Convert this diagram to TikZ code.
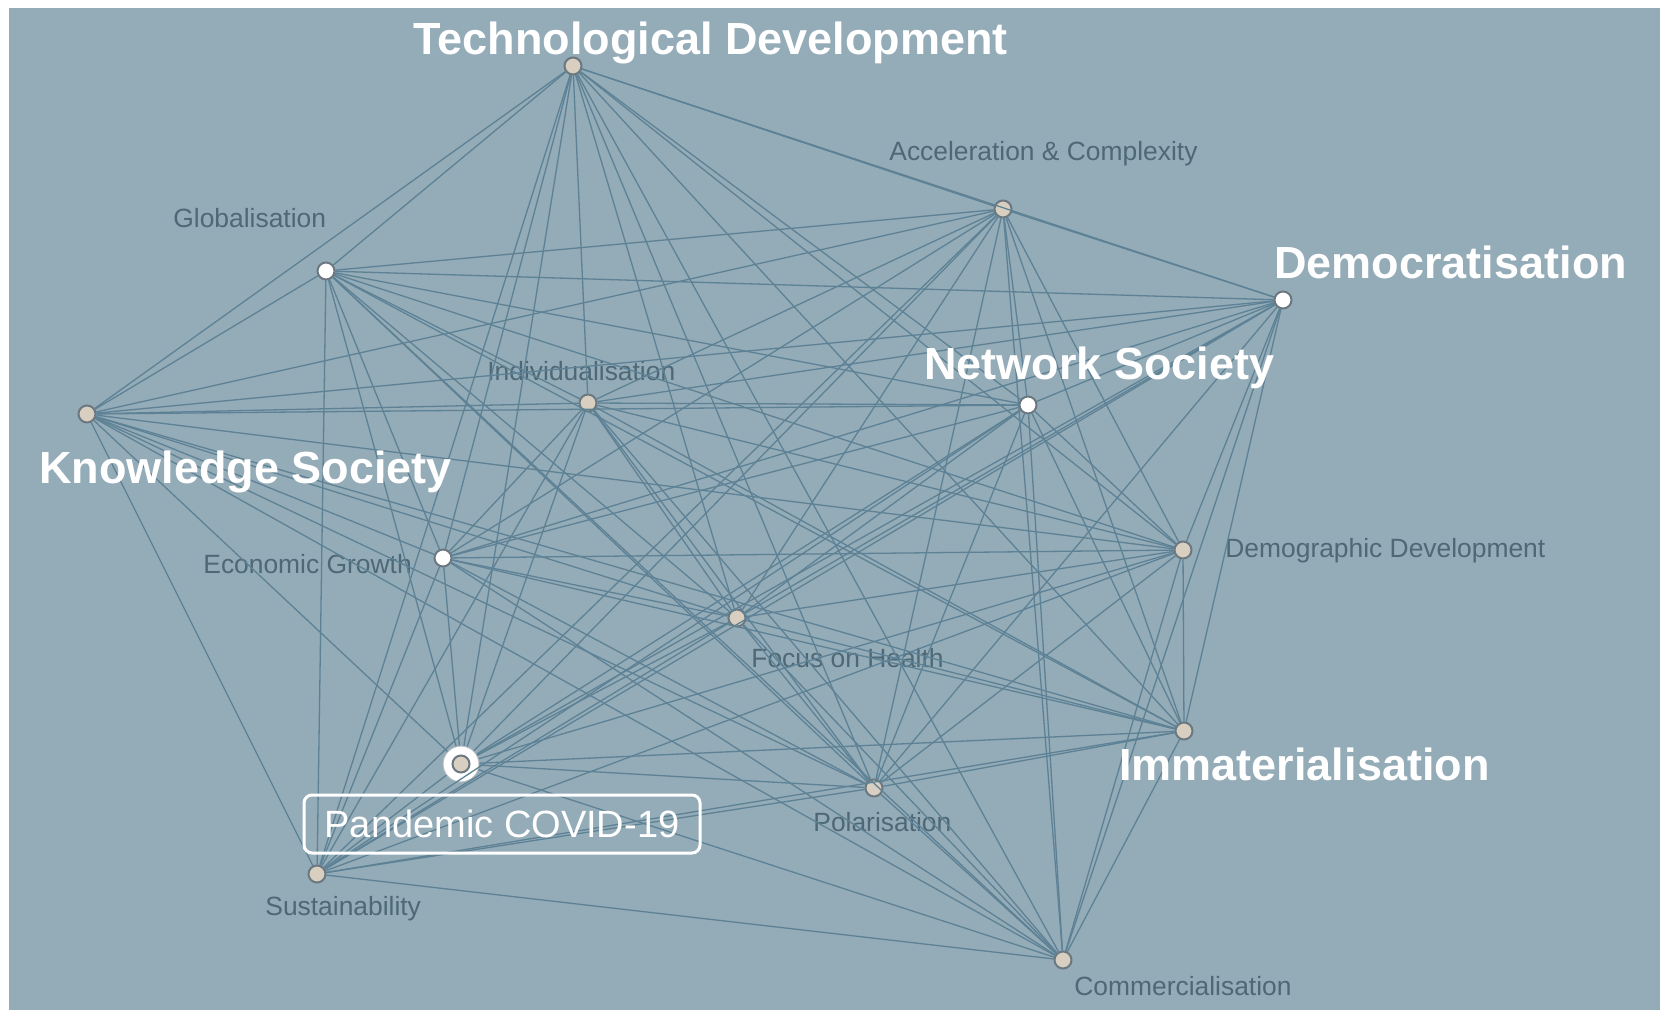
\documentclass[tikz,border=0pt]{standalone}
\usepackage{fontspec}
\setmainfont{Liberation Sans}
\usepackage{tikz}

\definecolor{mapbg}{RGB}{148,171,184}
\definecolor{linkc}{RGB}{94,130,149}
\definecolor{labelc}{RGB}{78,104,118}
\definecolor{dotc}{RGB}{216,207,192}
\definecolor{rimc}{RGB}{108,120,128}

\tikzset{
  dot/.style={circle,draw=rimc,line width=1pt,fill=dotc,minimum size=8.5pt,inner sep=0pt},
  hub/.style={dot,fill=white},
  link/.style={draw=linkc,line width=0.65pt},
  minor/.style={anchor=base west,inner sep=0pt,text=labelc,font=\fontsize{13.2}{15}\selectfont},
  major/.style={anchor=base west,inner sep=0pt,text=white,font=\bfseries\fontsize{22.5}{26}\selectfont},
}

\begin{document}
\begin{tikzpicture}[x=0.5pt,y=-0.5pt]
\useasboundingbox (0,0) rectangle (1660,1010);
\fill[mapbg] (9,8) rectangle (1660,1010);

% small labels sit under the links
\node[minor] (l_accel) at (889,161) {Acceleration \& Complexity};
\node[minor] (l_global) at (173,228) {Globalisation};
\node[minor] (l_indiv) at (487,381) {Individualisation};
\node[minor] (l_econ) at (203,574) {Economic Growth};
\node[minor] (l_demog) at (1225,557) {Demographic Development};
\node[minor] (l_health) at (751,667) {Focus on Health};
\node[minor] (l_polar) at (813,831) {Polarisation};
\node[minor] (l_sustain) at (265,915) {Sustainability};
\node[minor] (l_commerc) at (1074,995) {Commercialisation};

% trend dots
\node[dot] (tech) at (573,66) {};
\node[dot] (accel) at (1003,209) {};
\node[hub] (democ) at (1283,300) {};
\node[hub] (global) at (326,271) {};
\node[dot] (indiv) at (588,403) {};
\node[hub] (netw) at (1028,405) {};
\node[dot] (knowl) at (87,414) {};
\node[hub] (econ) at (443,558) {};
\node[dot] (demog) at (1183,550) {};
\node[dot] (health) at (737,618) {};
\node[dot] (immat) at (1184,731) {};
\node[circle,draw=rimc!50,line width=0.5pt,fill=white,minimum size=18pt,inner sep=0pt] (pand) at (461,764) {};
\node[dot] (pandcore) at (pand) {};
\node[dot] (polar) at (874,788) {};
\node[dot] (sustain) at (317,874) {};
\node[dot] (commerc) at (1063,960) {};

% every trend is linked to every other one
\draw[link] (tech) edge (accel) edge (democ) edge (global) edge (indiv) edge (netw) edge (knowl) edge (econ) edge (demog) edge (health) edge (immat) edge (pand) edge (polar) edge (sustain) edge (commerc);
\draw[link] (accel) edge (democ) edge (global) edge (indiv) edge (netw) edge (knowl) edge (econ) edge (demog) edge (health) edge (immat) edge (pand) edge (polar) edge (sustain) edge (commerc);
\draw[link] (democ) edge (global) edge (indiv) edge (netw) edge (knowl) edge (econ) edge (demog) edge (health) edge (immat) edge (pand) edge (polar) edge (sustain) edge (commerc);
\draw[link] (global) edge (indiv) edge (netw) edge (knowl) edge (econ) edge (demog) edge (health) edge (immat) edge (pand) edge (polar) edge (sustain) edge (commerc);
\draw[link] (indiv) edge (netw) edge (knowl) edge (econ) edge (demog) edge (health) edge (immat) edge (pand) edge (polar) edge (sustain) edge (commerc);
\draw[link] (netw) edge (knowl) edge (econ) edge (demog) edge (health) edge (immat) edge (pand) edge (polar) edge (sustain) edge (commerc);
\draw[link] (knowl) edge (econ) edge (demog) edge (health) edge (immat) edge (pand) edge (polar) edge (sustain) edge (commerc);
\draw[link] (econ) edge (demog) edge (health) edge (immat) edge (pand) edge (polar) edge (sustain) edge (commerc);
\draw[link] (demog) edge (health) edge (immat) edge (pand) edge (polar) edge (sustain) edge (commerc);
\draw[link] (health) edge (immat) edge (pand) edge (polar) edge (sustain) edge (commerc);
\draw[link] (immat) edge (pand) edge (polar) edge (sustain) edge (commerc);
\draw[link] (pand) edge (polar) edge (sustain) edge (commerc);
\draw[link] (polar) edge (sustain) edge (commerc);
\draw[link] (sustain) edge (commerc);

% main trends on top
\node[major] (l_tech) at (413,55) {Technological Development};
\node[major] (l_democ) at (1274,279) {Democratisation};
\node[major] (l_netw) at (924,380) {Network Society};
\node[major] (l_knowl) at (39,484) {Knowledge Society};
\node[major] (l_immat) at (1119,780) {Immaterialisation};

% selected trend
\node[draw=white,line width=1.5pt,rounded corners=4pt,minimum width=198pt,minimum height=29pt,inner sep=0pt,text=white,font=\fontsize{19}{22}\selectfont] (l_pand) at (502,824) {Pandemic COVID-19};
\end{tikzpicture}
\end{document}
